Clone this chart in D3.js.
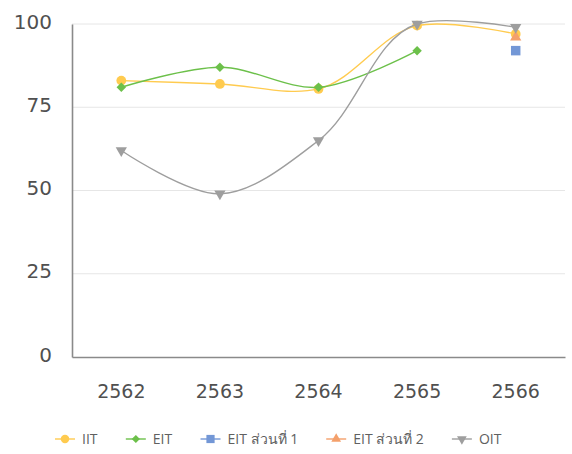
<!DOCTYPE html>
<html>
<head>
<meta charset="utf-8">
<script src="https://cdn.jsdelivr.net/npm/d3@7"></script>
<style>
  body { margin: 0; background: #fff; }
  text { font-family: "DejaVu Sans", "Noto Sans", sans-serif; fill: #505050; }
</style>
</head>
<body>
<div class="chart"></div>
<script>
// data
var years = ["2562", "2563", "2564", "2565", "2566"];
var iit  = [83, 82, 80.5, 99.5, 97];
var eit  = [81, 87, 81, 92, null];
var eit1 = [null, null, null, null, 92];
var eit2 = [null, null, null, null, 96];
var oit  = [62, 49, 65, 100, 99];
var yTicks = [0, 25, 50, 75, 100];

var series = [
  {name: "IIT", values: iit, color: "#FFCB4F", symbol: d3.symbolCircle, size: 75, rot: 0},
  {name: "EIT", values: eit, color: "#6CC04A", symbol: d3.symbolSquare, size: 45, rot: 45},
  {name: "EIT ส่วนที่ 1", values: eit1, color: "#7397D6", symbol: d3.symbolSquare, size: 90, rot: 0},
  {name: "EIT ส่วนที่ 2", values: eit2, color: "#F4A06B", symbol: d3.symbolTriangle, size: 55, rot: 0},
  {name: "OIT", values: oit, color: "#9E9E9E", symbol: d3.symbolTriangle, size: 55, rot: 180}
];

var width = 572, height = 454,
    margin = {top: 24, right: 7, bottom: 97, left: 72};

var svg = d3.select(".chart").append("svg")
    .attr("width", width)
    .attr("height", height);

var x = d3.scaleBand().domain(years).range([margin.left, width - margin.right]),
    y = d3.scaleLinear().domain([0, 100]).range([height - margin.bottom, margin.top]);

// gridlines
svg.append("g")
  .selectAll("line")
  .data(yTicks.filter(function(d) { return d > 0; }))
  .enter().append("line")
    .attr("x1", margin.left)
    .attr("x2", width - margin.right)
    .attr("y1", function(d) { return y(d); })
    .attr("y2", function(d) { return y(d); })
    .attr("stroke", "#e6e6e6")
    .attr("stroke-width", 1);

// y axis
var yAxis = svg.append("g")
    .attr("transform", "translate(" + margin.left + ",0)")
    .call(d3.axisLeft(y).tickValues(yTicks).tickSize(0).tickPadding(20));
yAxis.select(".domain").attr("stroke", "#8a8a8a").attr("stroke-width", 1.6);
yAxis.selectAll("text").style("font-size", "20px").attr("dy", "0.2em");

// x axis
var xAxis = svg.append("g")
    .attr("transform", "translate(0," + y(0) + ")")
    .call(d3.axisBottom(x).tickSize(0).tickPadding(28));
xAxis.select(".domain").attr("stroke", "#8a8a8a").attr("stroke-width", 1.6);
xAxis.selectAll("text").style("font-size", "19px").attr("dy", "0.71em");

var line = d3.line()
    .defined(function(d) { return d.v != null; })
    .x(function(d) { return x(d.k) + x.bandwidth() / 2; })
    .y(function(d) { return y(d.v); })
    .curve(d3.curveCatmullRom.alpha(1));

series.forEach(function(s) {
  var pts = years.map(function(k, i) { return {k: k, v: s.values[i]}; });
  svg.append("path")
    .datum(pts)
    .attr("fill", "none")
    .attr("stroke", s.color)
    .attr("stroke-width", 1.4)
    .attr("d", line);
  svg.append("g")
    .selectAll("path")
    .data(pts.filter(function(d) { return d.v != null; }))
    .enter().append("path")
      .attr("d", d3.symbol().type(s.symbol).size(s.size))
      .attr("fill", s.color)
      .attr("transform", function(d) {
        return "translate(" + (x(d.k) + x.bandwidth() / 2) + "," + y(d.v) + ") rotate(" + s.rot + ")";
      });
});

// legend
var legend = svg.append("g");
var lx = 55;
var items = legend.selectAll("g")
    .data(series)
    .enter().append("g");
items.append("line")
    .attr("x1", 0).attr("x2", 20)
    .attr("stroke", function(d) { return d.color; })
    .attr("stroke-width", 1.4);
items.append("path")
    .attr("d", function(d) { return d3.symbol().type(d.symbol).size(d.size * 0.75)(); })
    .attr("fill", function(d) { return d.color; })
    .attr("transform", function(d) { return "translate(10,0) rotate(" + d.rot + ")"; });
items.append("text")
    .attr("x", 27)
    .attr("dy", "0.35em")
    .style("font-family", "'Open Sans', 'Noto Sans', sans-serif")
    .style("font-size", "14px")
    .style("fill", "#606060")
    .text(function(d) { return d.name; });
items.each(function() {
  var w = this.getBBox().width;
  d3.select(this).attr("transform", "translate(" + lx + ",439)");
  lx += w + 28;
});
</script>
</body>
</html>
